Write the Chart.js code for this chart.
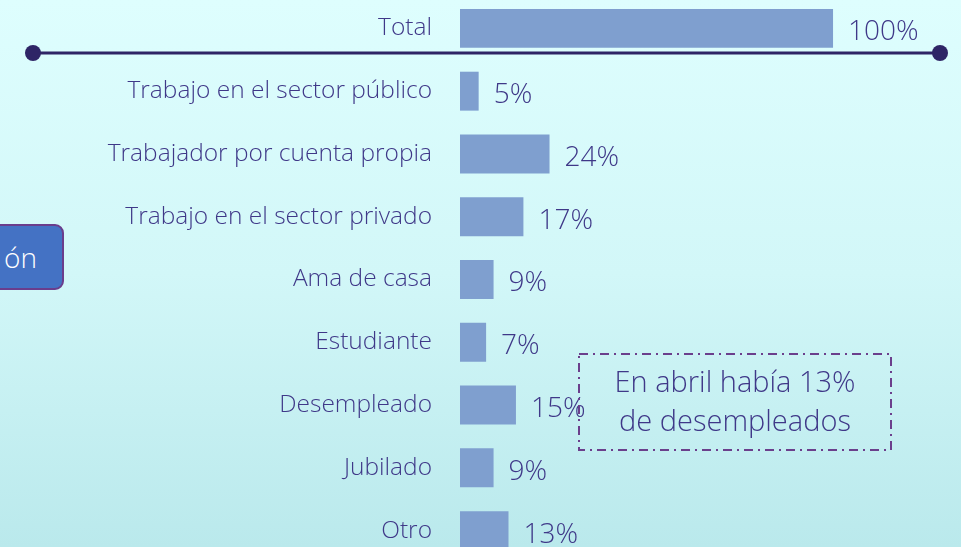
<!DOCTYPE html>
<html>
<head>
<meta charset="utf-8">
<script src="https://cdn.jsdelivr.net/npm/chart.js@4"></script>
<style>
  html, body { margin: 0; padding: 0; }
  body {
    width: 961px; height: 547px; overflow: hidden; position: relative;
    background: linear-gradient(to bottom, #defefe 0%, #d2f7f8 50%, #bae9ec 100%);
    font-family: "Open Sans", sans-serif;
  }
  .wrap { position: absolute; left: 0; top: -3px; width: 961px; height: 565px; }
  .btn {
    position: absolute; left: -14px; top: 224px; width: 78px; height: 66px;
    background: #4472c4; border: 2px solid #6a3d8c; border-radius: 9px;
    color: #fff; font-size: 28px; font-weight: 300; line-height: 62px;
    text-align: right; padding-right: 25px; box-sizing: border-box;
  }
  .note {
    position: absolute; left: 578px; top: 353px; width: 314px; height: 98px;
    color: #3f3888; font-size: 29px; font-weight: 300; text-align: center;
    line-height: 39px;
  }
  .note svg { position: absolute; left: 0; top: 0; }
  .note div { position: absolute; left: 0; right: 0; top: 8px; }
</style>
</head>
<body>
<div class="wrap"><canvas id="myChart"></canvas></div>

<!-- linea separadora bajo Total -->
<svg width="961" height="547" style="position:absolute;left:0;top:0;pointer-events:none">
  <line x1="33" y1="53" x2="940" y2="53" stroke="#2e2566" stroke-width="3"/>
  <circle cx="33" cy="53" r="8" fill="#2e2566"/>
  <circle cx="940" cy="53" r="8" fill="#2e2566"/>
</svg>

<div class="btn">ón</div>

<div class="note">
  <svg width="314" height="98">
    <rect x="1" y="1" width="312" height="96" fill="none" stroke="#6b3f8c" stroke-width="2" stroke-dasharray="9 5 2 5"/>
  </svg>
  <div>En abril había 13%<br>de desempleados</div>
</div>

<script>
// categorias y valores (%)
const categorias = ['Total', 'Trabajo en el sector público', 'Trabajador por cuenta propia',
  'Trabajo en el sector privado', 'Ama de casa', 'Estudiante', 'Desempleado', 'Jubilado', 'Otro'];
const valores = [100, 5, 24, 17, 9, 7, 15, 9, 13];

const textoColor = '#3f3888';

// etiqueta de valor al final de cada barra
const valueLabels = {
  id: 'valueLabels',
  afterDatasetsDraw(chart) {
    const c = chart.ctx;
    const meta = chart.getDatasetMeta(0);
    c.save();
    c.font = '300 28px "Open Sans"';
    c.fillStyle = textoColor;
    c.textBaseline = 'middle';
    meta.data.forEach((bar, i) => {
      c.fillText(valores[i] + '%', bar.x + 15, bar.y + 4);
    });
    c.restore();
  }
};

const ctx = document.getElementById('myChart');
new Chart(ctx, {
  type: 'bar',
  data: {
    labels: categorias,
    datasets: [{
      data: valores,
      backgroundColor: '#7f9fcf',
      borderWidth: 0,
      barPercentage: 0.62,
      categoryPercentage: 1
    }]
  },
  options: {
    indexAxis: 'y',
    responsive: true,
    maintainAspectRatio: false,
    animation: false,
    layout: { padding: 0 },
    plugins: { legend: { display: false }, tooltip: { enabled: false } },
    scales: {
      x: { display: false, min: 0, max: 134.3 },
      y: {
        // ancho fijo del eje y sin relleno arriba/abajo
        afterFit: (s) => { s.width = 460; s.paddingTop = 0; s.paddingBottom = 0; },
        border: { display: false },
        grid: { display: false, drawTicks: false },
        ticks: {
          color: textoColor,
          padding: 28,
          font: { family: 'Open Sans', size: 24.5, weight: 300 }
        }
      }
    }
  },
  plugins: [valueLabels]
});
</script>
</body>
</html>
